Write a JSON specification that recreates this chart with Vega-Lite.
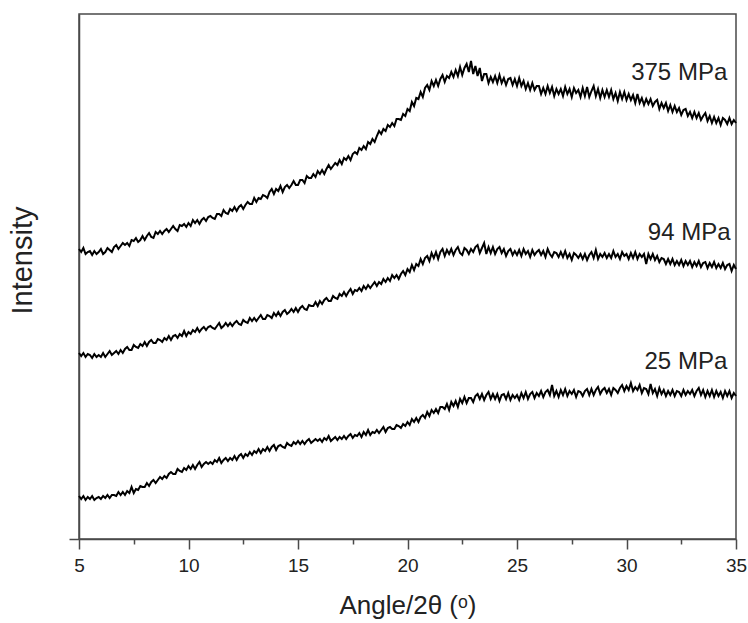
{
"$schema": "https://vega.github.io/schema/vega-lite/v6.json",
"width": 657, "height": 525,
"autosize": {"type": "none"},
"padding": {"left": 79, "top": 14, "right": 12, "bottom": 84},
"background": "white",
"config": {
  "font": "Liberation Sans",
  "view": {"stroke": "#4a4a4a", "strokeWidth": 1.5},
  "axis": {"domainColor": "#4a4a4a", "domainWidth": 1.5, "tickColor": "#4a4a4a", "tickWidth": 1.5, "grid": false, "labelColor": "#222", "titleColor": "#222", "titleFontWeight": "normal", "labelFlush": false, "labelOverlap": false}
},
"datasets": {
  "labels": [
    {"label": "375 MPa", "x": 34.6, "y": 466},
    {"label": "94 MPa", "x": 34.75, "y": 306},
    {"label": "25 MPa", "x": 34.6, "y": 177}
  ],
  "xrd": [
{"x":5.0,"a":290,"b":186,"c":43},{"x":5.1,"a":287,"b":183,"c":40},{"x":5.2,"a":291,"b":186,"c":43},{"x":5.3,"a":285,"b":182,"c":39},{"x":5.4,"a":287,"b":185,"c":42},{"x":5.5,"a":288,"b":184,"c":40},{"x":5.6,"a":284,"b":181,"c":43},{"x":5.7,"a":288,"b":185,"c":39},{"x":5.8,"a":285,"b":182,"c":41},{"x":5.9,"a":287,"b":184,"c":42},
{"x":6.0,"a":290,"b":182,"c":40},{"x":6.1,"a":285,"b":186,"c":43},{"x":6.2,"a":287,"b":182,"c":41},{"x":6.3,"a":291,"b":185,"c":44},{"x":6.4,"a":289,"b":188,"c":41},{"x":6.5,"a":287,"b":184,"c":44},{"x":6.6,"a":292,"b":186,"c":44},{"x":6.7,"a":294,"b":188,"c":43},{"x":6.8,"a":290,"b":185,"c":47},{"x":6.9,"a":293,"b":189,"c":44},
{"x":7.0,"a":296,"b":186,"c":47},{"x":7.1,"a":294,"b":190,"c":44},{"x":7.2,"a":296,"b":192,"c":48},{"x":7.3,"a":293,"b":189,"c":46},{"x":7.4,"a":299,"b":189,"c":52},{"x":7.5,"a":298,"b":194,"c":46},{"x":7.6,"a":301,"b":192,"c":50},{"x":7.7,"a":297,"b":191,"c":49},{"x":7.8,"a":299,"b":195,"c":53},{"x":7.9,"a":303,"b":193,"c":52},
{"x":8.0,"a":299,"b":197,"c":52},{"x":8.1,"a":303,"b":193,"c":56},{"x":8.2,"a":306,"b":197,"c":53},{"x":8.3,"a":302,"b":199,"c":57},{"x":8.4,"a":301,"b":196,"c":59},{"x":8.5,"a":307,"b":196,"c":56},{"x":8.6,"a":305,"b":200,"c":59},{"x":8.7,"a":308,"b":199,"c":62},{"x":8.8,"a":305,"b":197,"c":60},{"x":8.9,"a":308,"b":201,"c":63},
{"x":9.0,"a":310,"b":199,"c":61},{"x":9.1,"a":307,"b":203,"c":65},{"x":9.2,"a":310,"b":199,"c":67},{"x":9.3,"a":313,"b":203,"c":65},{"x":9.4,"a":310,"b":204,"c":65},{"x":9.5,"a":308,"b":201,"c":70},{"x":9.6,"a":314,"b":205,"c":68},{"x":9.7,"a":313,"b":203,"c":67},{"x":9.8,"a":315,"b":208,"c":71},{"x":9.9,"a":312,"b":203,"c":69},
{"x":10.0,"a":316,"b":207,"c":73},{"x":10.1,"a":313,"b":205,"c":70},{"x":10.2,"a":319,"b":209,"c":74},{"x":10.3,"a":316,"b":207,"c":70},{"x":10.4,"a":319,"b":211,"c":74},{"x":10.5,"a":315,"b":207,"c":77},{"x":10.6,"a":319,"b":210,"c":72},{"x":10.7,"a":321,"b":212,"c":75},{"x":10.8,"a":318,"b":209,"c":77},{"x":10.9,"a":322,"b":212,"c":75},
{"x":11.0,"a":323,"b":213,"c":77},{"x":11.1,"a":321,"b":211,"c":75},{"x":11.2,"a":320,"b":210,"c":79},{"x":11.3,"a":325,"b":213,"c":77},{"x":11.4,"a":325,"b":216,"c":81},{"x":11.5,"a":323,"b":211,"c":76},{"x":11.6,"a":329,"b":213,"c":79},{"x":11.7,"a":326,"b":216,"c":81},{"x":11.8,"a":325,"b":213,"c":78},{"x":11.9,"a":330,"b":216,"c":81},
{"x":12.0,"a":328,"b":213,"c":79},{"x":12.1,"a":332,"b":216,"c":83},{"x":12.2,"a":328,"b":218,"c":79},{"x":12.3,"a":332,"b":215,"c":83},{"x":12.4,"a":334,"b":214,"c":85},{"x":12.5,"a":330,"b":219,"c":81},{"x":12.6,"a":334,"b":217,"c":85},{"x":12.7,"a":337,"b":216,"c":83},{"x":12.8,"a":335,"b":221,"c":87},{"x":12.9,"a":335,"b":218,"c":84},
{"x":13.0,"a":341,"b":221,"c":88},{"x":13.1,"a":337,"b":218,"c":86},{"x":13.2,"a":341,"b":221,"c":90},{"x":13.3,"a":340,"b":224,"c":86},{"x":13.4,"a":344,"b":220,"c":90},{"x":13.5,"a":343,"b":220,"c":88},{"x":13.6,"a":341,"b":224,"c":92},{"x":13.7,"a":347,"b":223,"c":88},{"x":13.8,"a":350,"b":221,"c":92},{"x":13.9,"a":345,"b":226,"c":94},
{"x":14.0,"a":350,"b":223,"c":89},{"x":14.1,"a":348,"b":227,"c":93},{"x":14.2,"a":353,"b":223,"c":94},{"x":14.3,"a":347,"b":227,"c":92},{"x":14.4,"a":352,"b":229,"c":91},{"x":14.5,"a":354,"b":225,"c":96},{"x":14.6,"a":351,"b":227,"c":94},{"x":14.7,"a":354,"b":230,"c":93},{"x":14.8,"a":358,"b":227,"c":97},{"x":14.9,"a":354,"b":231,"c":95},
{"x":15.0,"a":354,"b":227,"c":98},{"x":15.1,"a":359,"b":231,"c":95},{"x":15.2,"a":359,"b":233,"c":98},{"x":15.3,"a":356,"b":230,"c":95},{"x":15.4,"a":363,"b":229,"c":98},{"x":15.5,"a":361,"b":234,"c":100},{"x":15.6,"a":361,"b":233,"c":96},{"x":15.7,"a":365,"b":233,"c":98},{"x":15.8,"a":362,"b":237,"c":100},{"x":15.9,"a":368,"b":233,"c":98},
{"x":16.0,"a":365,"b":238,"c":100},{"x":16.1,"a":369,"b":235,"c":97},{"x":16.2,"a":365,"b":239,"c":101},{"x":16.3,"a":370,"b":241,"c":99},{"x":16.4,"a":374,"b":238,"c":103},{"x":16.5,"a":370,"b":238,"c":98},{"x":16.6,"a":373,"b":243,"c":100},{"x":16.7,"a":376,"b":241,"c":102},{"x":16.8,"a":374,"b":240,"c":99},{"x":16.9,"a":379,"b":245,"c":102},
{"x":17.0,"a":375,"b":243,"c":100},{"x":17.1,"a":381,"b":247,"c":103},{"x":17.2,"a":379,"b":243,"c":100},{"x":17.3,"a":383,"b":247,"c":103},{"x":17.4,"a":379,"b":250,"c":105},{"x":17.5,"a":385,"b":245,"c":101},{"x":17.6,"a":387,"b":249,"c":104},{"x":17.7,"a":385,"b":248,"c":103},{"x":17.8,"a":391,"b":251,"c":106},{"x":17.9,"a":389,"b":248,"c":102},
{"x":18.0,"a":393,"b":253,"c":107},{"x":18.1,"a":390,"b":250,"c":104},{"x":18.2,"a":397,"b":254,"c":109},{"x":18.3,"a":395,"b":251,"c":104},{"x":18.4,"a":400,"b":254,"c":107},{"x":18.5,"a":397,"b":257,"c":106},{"x":18.6,"a":403,"b":253,"c":109},{"x":18.7,"a":408,"b":257,"c":106},{"x":18.8,"a":405,"b":255,"c":109},{"x":18.9,"a":410,"b":260,"c":112},
{"x":19.0,"a":408,"b":257,"c":107},{"x":19.1,"a":414,"b":261,"c":111},{"x":19.2,"a":412,"b":258,"c":112},{"x":19.3,"a":416,"b":264,"c":110},{"x":19.4,"a":413,"b":261,"c":110},{"x":19.5,"a":420,"b":264,"c":114},{"x":19.6,"a":420,"b":260,"c":113},{"x":19.7,"a":419,"b":265,"c":111},{"x":19.8,"a":425,"b":268,"c":115},{"x":19.9,"a":423,"b":264,"c":113},
{"x":20.0,"a":430,"b":270,"c":117},{"x":20.1,"a":428,"b":267,"c":114},{"x":20.2,"a":437,"b":274,"c":120},{"x":20.3,"a":433,"b":269,"c":117},{"x":20.4,"a":441,"b":275,"c":121},{"x":20.5,"a":440,"b":273,"c":117},{"x":20.6,"a":447,"b":280,"c":122},{"x":20.7,"a":442,"b":275,"c":124},{"x":20.8,"a":451,"b":281,"c":121},{"x":20.9,"a":454,"b":283,"c":127},
{"x":21.0,"a":449,"b":278,"c":123},{"x":21.1,"a":458,"b":286,"c":129},{"x":21.2,"a":453,"b":281,"c":126},{"x":21.3,"a":459,"b":287,"c":130},{"x":21.4,"a":453,"b":280,"c":126},{"x":21.5,"a":460,"b":287,"c":132},{"x":21.6,"a":464,"b":290,"c":132},{"x":21.7,"a":457,"b":283,"c":130},{"x":21.8,"a":463,"b":289,"c":135},{"x":21.9,"a":461,"b":285,"c":129},
{"x":22.0,"a":467,"b":290,"c":137},{"x":22.1,"a":462,"b":284,"c":133},{"x":22.2,"a":469,"b":289,"c":138},{"x":22.3,"a":463,"b":292,"c":132},{"x":22.4,"a":472,"b":286,"c":140},{"x":22.5,"a":464,"b":284,"c":136},{"x":22.6,"a":471,"b":291,"c":142},{"x":22.7,"a":475,"b":289,"c":136},{"x":22.8,"a":467,"b":285,"c":141},{"x":22.9,"a":478,"b":290,"c":141},
{"x":23.0,"a":465,"b":287,"c":137},{"x":23.1,"a":473,"b":292,"c":143},{"x":23.2,"a":463,"b":294,"c":145},{"x":23.3,"a":471,"b":286,"c":140},{"x":23.4,"a":458,"b":291,"c":145},{"x":23.5,"a":465,"b":296,"c":139},{"x":23.6,"a":465,"b":285,"c":144},{"x":23.7,"a":456,"b":292,"c":147},{"x":23.8,"a":462,"b":286,"c":140},{"x":23.9,"a":457,"b":292,"c":145},
{"x":24.0,"a":463,"b":285,"c":140},{"x":24.1,"a":456,"b":290,"c":145},{"x":24.2,"a":464,"b":292,"c":138},{"x":24.3,"a":456,"b":286,"c":144},{"x":24.4,"a":461,"b":290,"c":145},{"x":24.5,"a":454,"b":283,"c":140},{"x":24.6,"a":460,"b":288,"c":146},{"x":24.7,"a":461,"b":290,"c":139},{"x":24.8,"a":454,"b":284,"c":144},{"x":24.9,"a":460,"b":288,"c":141},
{"x":25.0,"a":453,"b":284,"c":144},{"x":25.1,"a":461,"b":289,"c":139},{"x":25.2,"a":453,"b":283,"c":146},{"x":25.3,"a":458,"b":290,"c":141},{"x":25.4,"a":450,"b":285,"c":147},{"x":25.5,"a":456,"b":288,"c":140},{"x":25.6,"a":449,"b":282,"c":145},{"x":25.7,"a":456,"b":289,"c":147},{"x":25.8,"a":449,"b":284,"c":141},{"x":25.9,"a":453,"b":287,"c":146},
{"x":26.0,"a":453,"b":289,"c":143},{"x":26.1,"a":445,"b":284,"c":148},{"x":26.2,"a":451,"b":288,"c":142},{"x":26.3,"a":445,"b":282,"c":147},{"x":26.4,"a":453,"b":290,"c":149},{"x":26.5,"a":446,"b":285,"c":144},{"x":26.6,"a":452,"b":282,"c":154},{"x":26.7,"a":443,"b":287,"c":143},{"x":26.8,"a":450,"b":286,"c":148},{"x":26.9,"a":445,"b":282,"c":142},
{"x":27.0,"a":450,"b":287,"c":149},{"x":27.1,"a":443,"b":282,"c":144},{"x":27.2,"a":452,"b":288,"c":150},{"x":27.3,"a":445,"b":281,"c":143},{"x":27.4,"a":450,"b":285,"c":148},{"x":27.5,"a":442,"b":279,"c":145},{"x":27.6,"a":451,"b":286,"c":149},{"x":27.7,"a":446,"b":284,"c":142},{"x":27.8,"a":449,"b":281,"c":148},{"x":27.9,"a":442,"b":285,"c":147},
{"x":28.0,"a":451,"b":280,"c":143},{"x":28.1,"a":443,"b":285,"c":148},{"x":28.2,"a":452,"b":279,"c":150},{"x":28.3,"a":442,"b":284,"c":144},{"x":28.4,"a":448,"b":287,"c":150},{"x":28.5,"a":453,"b":281,"c":144},{"x":28.6,"a":443,"b":289,"c":149},{"x":28.7,"a":450,"b":280,"c":152},{"x":28.8,"a":441,"b":285,"c":145},{"x":28.9,"a":449,"b":282,"c":149},
{"x":29.0,"a":442,"b":286,"c":151},{"x":29.1,"a":449,"b":281,"c":146},{"x":29.2,"a":442,"b":285,"c":150},{"x":29.3,"a":449,"b":281,"c":144},{"x":29.4,"a":440,"b":288,"c":151},{"x":29.5,"a":446,"b":282,"c":149},{"x":29.6,"a":438,"b":285,"c":146},{"x":29.7,"a":447,"b":280,"c":151},{"x":29.8,"a":440,"b":287,"c":154},{"x":29.9,"a":447,"b":283,"c":148},
{"x":30.0,"a":439,"b":285,"c":153},{"x":30.1,"a":445,"b":280,"c":149},{"x":30.2,"a":439,"b":286,"c":156},{"x":30.3,"a":444,"b":281,"c":148},{"x":30.4,"a":436,"b":287,"c":152},{"x":30.5,"a":445,"b":280,"c":149},{"x":30.6,"a":436,"b":285,"c":154},{"x":30.7,"a":441,"b":282,"c":146},{"x":30.8,"a":434,"b":285,"c":151},{"x":30.9,"a":440,"b":275,"c":150},
{"x":31.0,"a":435,"b":285,"c":145},{"x":31.1,"a":440,"b":280,"c":155},{"x":31.2,"a":433,"b":285,"c":146},{"x":31.3,"a":437,"b":279,"c":150},{"x":31.4,"a":439,"b":283,"c":143},{"x":31.5,"a":430,"b":277,"c":151},{"x":31.6,"a":436,"b":281,"c":145},{"x":31.7,"a":431,"b":280,"c":149},{"x":31.8,"a":436,"b":275,"c":143},{"x":31.9,"a":428,"b":280,"c":148},
{"x":32.0,"a":434,"b":275,"c":144},{"x":32.1,"a":427,"b":280,"c":149},{"x":32.2,"a":433,"b":274,"c":143},{"x":32.3,"a":427,"b":278,"c":148},{"x":32.4,"a":431,"b":274,"c":147},{"x":32.5,"a":424,"b":279,"c":143},{"x":32.6,"a":429,"b":273,"c":149},{"x":32.7,"a":430,"b":278,"c":144},{"x":32.8,"a":423,"b":274,"c":148},{"x":32.9,"a":427,"b":278,"c":145},
{"x":33.0,"a":421,"b":272,"c":149},{"x":33.1,"a":427,"b":277,"c":143},{"x":33.2,"a":421,"b":273,"c":148},{"x":33.3,"a":426,"b":278,"c":151},{"x":33.4,"a":419,"b":272,"c":144},{"x":33.5,"a":423,"b":276,"c":149},{"x":33.6,"a":426,"b":277,"c":142},{"x":33.7,"a":418,"b":271,"c":148},{"x":33.8,"a":423,"b":276,"c":143},{"x":33.9,"a":416,"b":272,"c":149},
{"x":34.0,"a":422,"b":277,"c":142},{"x":34.1,"a":416,"b":271,"c":148},{"x":34.2,"a":421,"b":275,"c":143},{"x":34.3,"a":414,"b":271,"c":147},{"x":34.4,"a":421,"b":276,"c":141},{"x":34.5,"a":419,"b":270,"c":148},{"x":34.6,"a":415,"b":274,"c":143},{"x":34.7,"a":421,"b":275,"c":148},{"x":34.8,"a":415,"b":268,"c":141},{"x":34.9,"a":419,"b":274,"c":146},
{"x":35.0,"a":416,"b":270,"c":143}
  ]
},
"layer": [
  {
    "data": {"name": "xrd"},
    "transform": [{"fold": ["a", "b", "c"], "as": ["series", "intensity"]}],
    "mark": {"type": "line", "color": "#000", "strokeWidth": 2},
    "encoding": {
      "x": {"field": "x", "type": "quantitative",
        "scale": {"domain": [5, 35], "nice": false, "zero": false},
        "axis": {
          "values": [5, 7.5, 10, 12.5, 15, 17.5, 20, 22.5, 25, 27.5, 30, 32.5, 35],
          "labelExpr": "datum.value % 5 === 0 ? datum.label : ''",
          "tickSize": {"condition": {"test": "datum.value % 5 === 0", "value": 10}, "value": 5},
          "labelFontSize": 19, "labelPadding": 7,
          "title": "Angle/2θ (ᵒ)", "titleFontSize": 26,
          "titleBaseline": "alphabetic", "titleY": 74
        }
      },
      "y": {"field": "intensity", "type": "quantitative",
        "scale": {"domain": [0, 525], "nice": false},
        "axis": {
          "values": [0], "labels": false, "tickSize": 10,
          "title": "Intensity", "titleFontSize": 29,
          "titleX": -57, "titleY": 246, "titleBaseline": "middle", "titleAlign": "center"
        }
      },
      "detail": {"field": "series"}
    }
  },
  {
    "data": {"name": "labels"},
    "mark": {"type": "text", "align": "right", "baseline": "middle", "fontSize": 24, "color": "#222"},
    "encoding": {
      "x": {"field": "x", "type": "quantitative"},
      "y": {"field": "y", "type": "quantitative"},
      "text": {"field": "label"}
    }
  }
]
}
